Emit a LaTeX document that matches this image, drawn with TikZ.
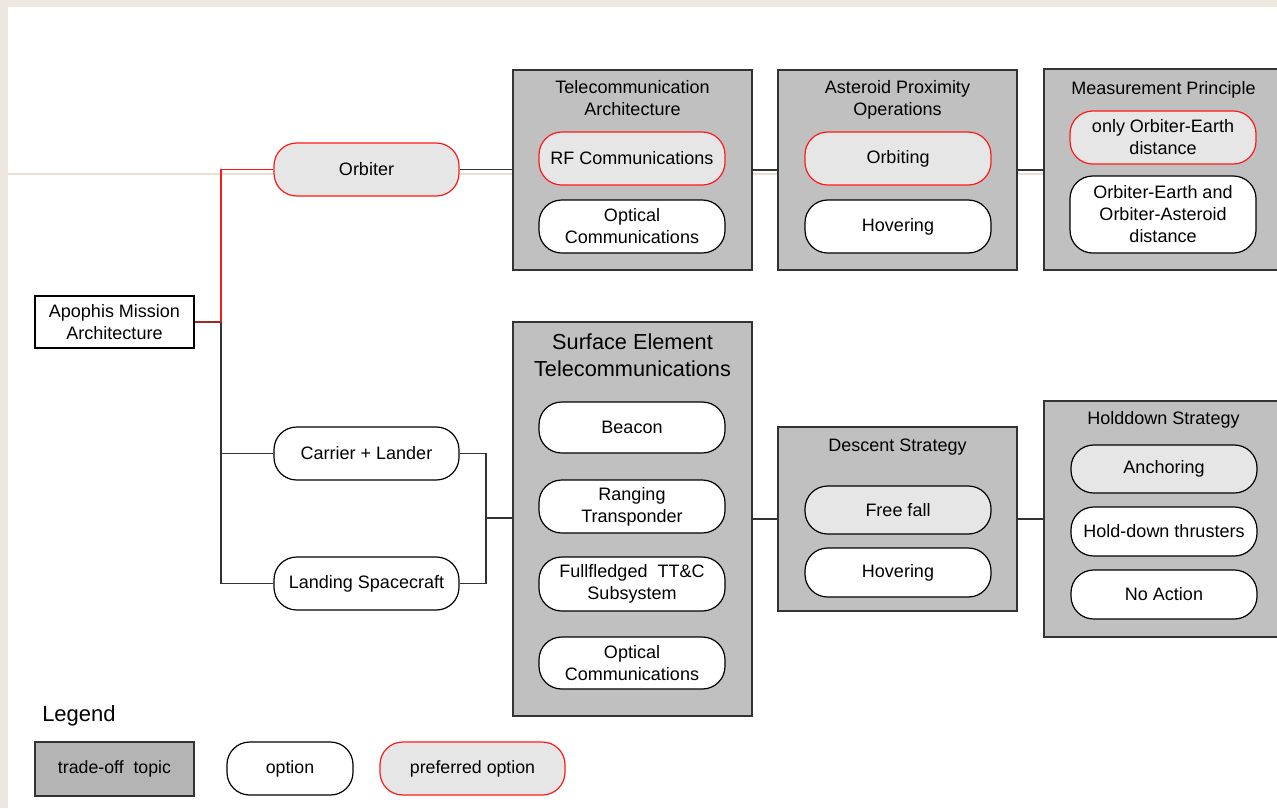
\documentclass[tikz,border=0pt]{standalone}
\usepackage{fontspec}
\setmainfont{Liberation Sans}
\definecolor{topicgray}{HTML}{C0C0C0}
\definecolor{prefgray}{HTML}{E6E6E6}
\definecolor{leggray}{HTML}{B4B4B4}
\definecolor{edge}{HTML}{333333}
\definecolor{prefred}{HTML}{FF1A1A}
\definecolor{darkred}{HTML}{A02828}
\definecolor{beige}{HTML}{EEE7E0}
\definecolor{faintline}{HTML}{EADFD4}
\tikzset{
  topic/.style={draw=edge, line width=1.1pt, fill=topicgray, inner sep=0pt, minimum width=179.25pt},
  option/.style={draw=black, line width=0.9pt, fill=white, rounded corners=17pt,
    align=center, inner sep=0pt, minimum width=139.5pt, font=\fontsize{13.5}{16.5}\selectfont},
  preferred/.style={option, draw=prefred, fill=prefgray},
  lightopt/.style={option, fill=prefgray},
  title/.style={align=center, inner sep=0pt, font=\fontsize{13.5}{16.5}\selectfont},
  conn/.style={draw=edge, line width=1.1pt},
  redconn/.style={draw=prefred, line width=1.1pt},
}
\begin{document}
\begin{tikzpicture}[x=0.75pt, y=-0.75pt]
\useasboundingbox (0,0) rectangle (1277,808);
% background
\fill[beige] (0,0) rectangle (1277,808);
\fill[white] (8,7) rectangle (1277,808);
\draw[faintline, line width=0.8pt] (8,174) -- (1277,174);

% root
\node[draw=black, line width=1pt, fill=white, minimum width=119.25pt, minimum height=39pt, align=center, inner sep=0pt,
  font=\fontsize{13.5}{16.5}\selectfont] (root) at (114.5,322) {Apophis Mission\\Architecture};

% first level options
\node[preferred, minimum width=138.75pt, minimum height=39.75pt] (orb) at (366.5,169.5) {Orbiter};
\node[option, minimum width=138.75pt, minimum height=39.75pt] (carrier) at (366.5,453.5) {Carrier + Lander};
\node[option, minimum width=138.75pt, minimum height=39.75pt] (landing) at (366.5,583.5) {Landing Spacecraft};

% topic boxes
\node[topic, minimum height=150pt] (tele) at (632.5,170) {};
\node[title] (teletitle) at (632.5,98.5) {Telecommunication\\Architecture};
\node[preferred, minimum height=39.75pt] (rf) at (632,158.5) {RF Communications};
\node[option, minimum height=39.75pt] (optc) at (632,226.5) {Optical\\Communications};

\node[topic, minimum height=150pt] (ast) at (897.5,170) {};
\node[title] (asttitle) at (897.5,100) {Asteroid Proximity\\Operations};
\node[preferred, minimum height=39.75pt] (orbiting) at (898,158.5) {Orbiting};
\node[option, minimum height=39.75pt] (hovA) at (898,226.5) {Hovering};

\node[topic, minimum height=150.75pt] (meas) at (1163.5,169.5) {};
\node[title] (meastitle) at (1163.5,90) {Measurement Principle};
\node[preferred, minimum height=39.75pt] (only) at (1163,137.5) {only Orbiter-Earth\\distance};
\node[option, minimum height=57.75pt] (both) at (1163,214.5) {Orbiter-Earth and\\Orbiter-Asteroid\\distance};

\node[topic, minimum height=295.5pt] (surf) at (632.5,519) {};
\node[title, font=\fontsize{16.3}{20.25}\selectfont] (surftitle) at (632.5,355) {Surface Element\\Telecommunications};
\node[option, minimum height=38.25pt] (beacon) at (632,427.5) {Beacon};
\node[option, minimum height=39.75pt] (ranging) at (632,506.5) {Ranging\\Transponder};
\node[option, minimum height=40.5pt] (full) at (632,584) {Fullfledged\ \ TT\&C\\Subsystem};
\node[option, minimum height=39pt] (optd) at (632,663) {Optical\\Communications};

\node[topic, minimum height=138pt] (desc) at (897.5,519) {};
\node[title] (desctitle) at (897.5,447) {Descent Strategy};
\node[lightopt, minimum height=36pt] (ff) at (898,510) {Free fall};
\node[option, minimum height=36.75pt] (hovB) at (898,572.5) {Hovering};

\node[topic, minimum height=177pt] (hold) at (1163.5,519) {};
\node[title] (holdtitle) at (1163.5,420) {Holddown Strategy};
\node[lightopt, minimum height=36pt] (anch) at (1164,469) {Anchoring};
\node[option, minimum height=36.75pt] (hdt) at (1164,531.5) {Hold-down thrusters};
\node[option, minimum height=36.75pt] (noact) at (1164,594.5) {No Action};

% connectors
\coordinate (trunk) at (221,322);
\coordinate (trunktop) at (221,169.5);
\coordinate (trunkA) at (221,453.5);
\coordinate (trunkB) at (221,583.5);
\coordinate (forkA) at (486,453.5);
\coordinate (forkB) at (486,583.5);
\coordinate (forkM) at (486,518);

\draw[conn] (trunk) -- (trunkB);
\draw[conn] (trunkA) -- (carrier.west);
\draw[conn] (trunkB) -- (landing.west);
\draw[redconn] (trunk) -- (trunktop) -- (orb.west);
\draw[draw=darkred, line width=1.1pt] (root.east) -- (trunk);

\draw[conn] (orb.east) -- (orb.east -| tele.west);
\draw[conn] (tele.east) -- (ast.west);
\draw[conn] (ast.east) -- (ast.east -| meas.west);

\draw[conn] (carrier.east) -- (forkA) -- (forkB) -- (landing.east);
\draw[conn] (forkM) -- (forkM -| surf.west);
\draw[conn] (surf.east) -- (desc.west);
\draw[conn] (desc.east) -- (hold.west);

% legend
\node[anchor=west, inner sep=0pt, font=\fontsize{16.5}{19}\selectfont] (legend) at (42,716) {Legend};
\node[draw=edge, line width=1.1pt, fill=leggray, minimum width=119.25pt, minimum height=40.5pt, inner sep=0pt,
  font=\fontsize{13.3}{16}\selectfont] (lg1) at (114.5,769) {trade-off\ \ topic};
\node[option, minimum width=94.5pt, minimum height=39.75pt, font=\fontsize{13.3}{16}\selectfont] (lg2) at (290,768.5) {option};
\node[preferred, minimum width=138.75pt, minimum height=39.75pt, font=\fontsize{13.3}{16}\selectfont] (lg3) at (472.5,768.5) {preferred option};
\end{tikzpicture}
\end{document}
